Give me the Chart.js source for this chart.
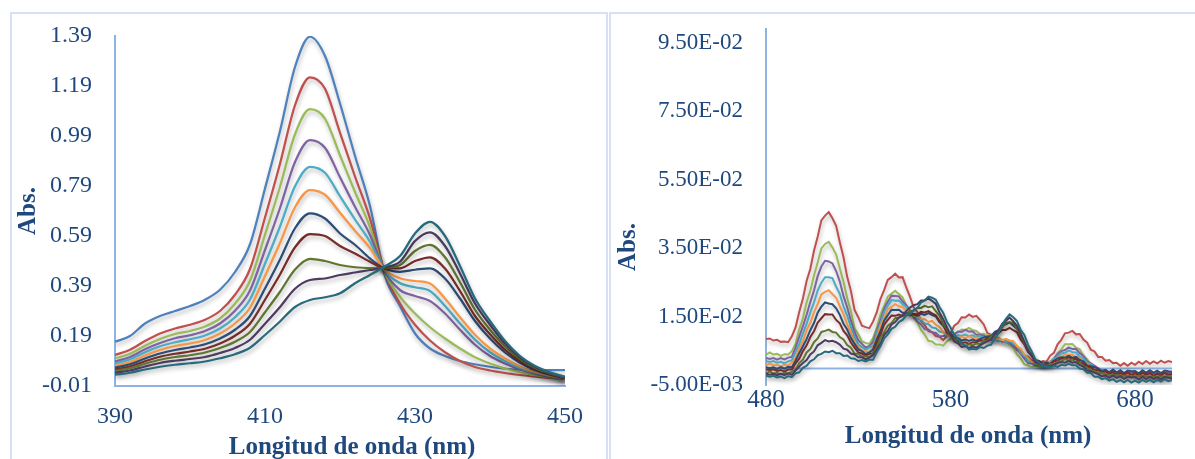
<!DOCTYPE html>
<html>
<head>
<meta charset="utf-8">
<script src="https://cdn.jsdelivr.net/npm/chart.js@4.4.0/dist/chart.umd.min.js"></script>
<style>
  html, body { margin: 0; padding: 0; background: #ffffff; width: 1195px; height: 459px; overflow: hidden; }
  .panel { position: absolute; border: 2px solid #D6E2F3; box-sizing: border-box; background: #ffffff; }
  #panelLeft  { left: 10px;  top: 12px; width: 598px; height: 480px; }
  #panelRight { left: 609px; top: 12px; width: 620px; height: 480px; }
  canvas { position: absolute; }
  #soret { left: 12px;  top: -4px; }
  #qband { left: 612px; top: -11px; }
</style>
</head>
<body>
<div class="panel" id="panelLeft"></div>
<div class="panel" id="panelRight"></div>
<canvas id="soret" width="593" height="463"></canvas>
<canvas id="qband" width="583" height="470"></canvas>
<script>
// ---------- Soret region (390–450 nm) ----------
const soretWavelengths = [390,392,394,396,398,400,402,404,406,408,410,412,414,416,418,420,422,424,426,428,430,432,434,436,438,440,442,444,446,448,450];
const soretXTicks = [390, 410, 430, 450];
const soretYTicks = [-0.01, 0.19, 0.39, 0.59, 0.79, 0.99, 1.19, 1.39];
const soretYLabels = ['-0.01','0.19','0.39','0.59','0.79','0.99','1.19','1.39'];

const soret01 = [0.167,0.19,0.24,0.27,0.29,0.31,0.335,0.375,0.446,0.557,0.78,1.01,1.266,1.387,1.31,1.12,0.91,0.71,0.43,0.31,0.2,0.14,0.11,0.09,0.077,0.067,0.059,0.055,0.054,0.054,0.054];
const soret02 = [0.114,0.135,0.17,0.2,0.22,0.235,0.255,0.29,0.355,0.458,0.664,0.879,1.113,1.225,1.179,1.003,0.828,0.66,0.44,0.32,0.235,0.172,0.125,0.09,0.066,0.052,0.042,0.034,0.027,0.022,0.018];
const soret03 = [0.10,0.119,0.151,0.178,0.198,0.21,0.228,0.26,0.319,0.411,0.595,0.787,0.997,1.097,1.059,0.913,0.766,0.626,0.441,0.347,0.28,0.225,0.18,0.14,0.105,0.08,0.06,0.045,0.033,0.024,0.017];
const soret04 = [0.088,0.106,0.137,0.162,0.181,0.193,0.21,0.24,0.291,0.372,0.534,0.702,0.886,0.974,0.943,0.825,0.707,0.594,0.446,0.374,0.35,0.33,0.28,0.215,0.155,0.11,0.08,0.056,0.039,0.027,0.018];
const soret05 = [0.08,0.097,0.125,0.149,0.165,0.177,0.192,0.22,0.265,0.336,0.479,0.628,0.789,0.867,0.843,0.749,0.656,0.567,0.45,0.401,0.385,0.37,0.31,0.24,0.175,0.125,0.09,0.062,0.043,0.029,0.019];
const soret06 = [0.071,0.086,0.112,0.134,0.15,0.16,0.174,0.2,0.24,0.303,0.43,0.562,0.705,0.774,0.755,0.683,0.611,0.542,0.454,0.421,0.41,0.40,0.34,0.265,0.195,0.14,0.1,0.068,0.046,0.031,0.02];
const soret07 = [0.063,0.077,0.10,0.12,0.134,0.144,0.157,0.18,0.215,0.27,0.38,0.496,0.621,0.681,0.66,0.60,0.555,0.50,0.459,0.447,0.455,0.461,0.42,0.34,0.25,0.18,0.124,0.083,0.054,0.035,0.021];
const soret08 = [0.056,0.068,0.089,0.107,0.119,0.128,0.139,0.16,0.191,0.239,0.335,0.436,0.545,0.598,0.59,0.55,0.52,0.487,0.461,0.461,0.49,0.505,0.46,0.37,0.27,0.197,0.135,0.09,0.058,0.038,0.022];
const soret09 = [0.05,0.061,0.079,0.095,0.106,0.113,0.124,0.142,0.167,0.206,0.285,0.367,0.456,0.499,0.49,0.474,0.465,0.462,0.463,0.474,0.53,0.554,0.505,0.405,0.295,0.215,0.148,0.097,0.062,0.04,0.024];
const soret10 = [0.043,0.052,0.068,0.082,0.091,0.098,0.106,0.122,0.142,0.175,0.239,0.306,0.379,0.414,0.42,0.434,0.444,0.454,0.465,0.487,0.57,0.605,0.55,0.44,0.32,0.235,0.16,0.105,0.067,0.043,0.025];
const soret11 = [0.035,0.043,0.056,0.067,0.075,0.081,0.088,0.101,0.117,0.143,0.194,0.248,0.306,0.334,0.345,0.361,0.401,0.434,0.469,0.51,0.60,0.647,0.59,0.47,0.34,0.25,0.17,0.11,0.07,0.045,0.027];

// ---------- Q-band region (480–700 nm) ----------
const qWavelengths = [480,482,484,486,488,490,492,494,496,498,500,502,504,506,508,510,512,514,516,518,520,522,524,526,528,530,532,534,536,538,540,542,544,546,548,550,552,554,556,558,560,562,564,566,568,570,572,574,576,578,580,582,584,586,588,590,592,594,596,598,600,602,604,606,608,610,612,614,616,618,620,622,624,626,628,630,632,634,636,638,640,642,644,646,648,650,652,654,656,658,660,662,664,666,668,670,672,674,676,678,680,682,684,686,688,690,692,694,696,698,700];
const qXTicks = [480, 580, 680];
const qYTicks = [-0.005, 0.015, 0.035, 0.055, 0.075, 0.095];
const qYLabels = ['-5.00E-03','1.50E-02','3.50E-02','5.50E-02','7.50E-02','9.50E-02'];

const q02 = [0.0084,0.0086,0.0080,0.0082,0.0076,0.0077,0.0075,0.0092,0.0118,0.0163,
  0.0203,0.0254,0.0289,0.0342,0.0383,0.0431,0.0445,0.0455,0.0437,0.0415,
  0.0367,0.0323,0.0266,0.0225,0.0169,0.0148,0.0123,0.0119,0.0116,0.0135,
  0.0162,0.0201,0.0227,0.0257,0.0265,0.0275,0.0264,0.0265,0.0235,0.0208,
  0.0177,0.0163,0.0137,0.0125,0.0107,0.0104,0.0093,0.0091,0.0081,0.0093,
  0.0101,0.0123,0.0131,0.0148,0.0147,0.0156,0.0149,0.0152,0.0140,0.0127,
  0.0101,0.0097,0.0084,0.0086,0.0077,0.0080,0.0069,0.0067,0.0052,0.0049,
  0.0035,0.0033,0.0021,0.0022,0.0013,0.0020,0.0018,0.0036,0.0044,0.0069,
  0.0082,0.0101,0.0103,0.0108,0.0098,0.0099,0.0083,0.0074,0.0053,0.0048,
  0.0032,0.0032,0.0021,0.0023,0.0014,0.0015,0.0006,0.0014,0.0006,0.0015,
  0.0009,0.0018,0.0011,0.0020,0.0012,0.0019,0.0013,0.0021,0.0015,0.0020,
  0.0017];
const q03 = [0.0039,0.0045,0.0039,0.0041,0.0035,0.0040,0.0039,0.0049,0.0071,0.0112,
  0.0145,0.0192,0.0225,0.0270,0.0308,0.0349,0.0362,0.0368,0.0352,0.0331,
  0.0291,0.0252,0.0204,0.0165,0.0116,0.0098,0.0077,0.0073,0.0070,0.0087,
  0.0117,0.0155,0.0181,0.0208,0.0217,0.0225,0.0216,0.0206,0.0182,0.0167,
  0.0146,0.0133,0.0111,0.0097,0.0079,0.0077,0.0068,0.0068,0.0065,0.0077,
  0.0084,0.0100,0.0104,0.0112,0.0111,0.0117,0.0110,0.0108,0.0099,0.0100,
  0.0093,0.0095,0.0089,0.0089,0.0080,0.0080,0.0068,0.0059,0.0039,0.0027,
  0.0010,0.0007,0.0001,0.0007,0.0005,0.0013,0.0011,0.0019,0.0025,0.0044,
  0.0054,0.0069,0.0069,0.0070,0.0059,0.0054,0.0036,0.0025,0.0009,0.0005,
  -0.0006,-0.0006,-0.0013,-0.0014,-0.0017,-0.0017,-0.0019,-0.0020,-0.0021,-0.0020,
  -0.0022,-0.0021,-0.0022,-0.0023,-0.0025,-0.0024,-0.0025,-0.0024,-0.0025,-0.0024,
  -0.0024];
const q04 = [0.0029,0.0026,0.0029,0.0024,0.0029,0.0025,0.0030,0.0032,0.0059,0.0091,
  0.0122,0.0155,0.0192,0.0226,0.0268,0.0296,0.0313,0.0311,0.0305,0.0283,
  0.0252,0.0210,0.0177,0.0138,0.0105,0.0081,0.0070,0.0059,0.0064,0.0076,
  0.0109,0.0138,0.0173,0.0193,0.0211,0.0210,0.0209,0.0194,0.0183,0.0168,
  0.0153,0.0135,0.0127,0.0113,0.0112,0.0104,0.0102,0.0092,0.0093,0.0095,
  0.0097,0.0097,0.0106,0.0105,0.0111,0.0106,0.0106,0.0097,0.0097,0.0094,
  0.0089,0.0082,0.0084,0.0078,0.0081,0.0075,0.0075,0.0063,0.0055,0.0042,
  0.0028,0.0014,0.0013,0.0007,0.0013,0.0011,0.0016,0.0016,0.0028,0.0040,
  0.0049,0.0052,0.0060,0.0055,0.0055,0.0043,0.0035,0.0019,0.0013,0.0006,
  -0.0001,-0.0009,-0.0007,-0.0014,-0.0007,-0.0015,-0.0010,-0.0019,-0.0012,-0.0015,
  -0.0014,-0.0021,-0.0012,-0.0019,-0.0012,-0.0019,-0.0014,-0.0022,-0.0014,-0.0015,
  -0.0016];
const q05 = [0.0020,0.0017,0.0020,0.0015,0.0018,0.0013,0.0019,0.0022,0.0047,0.0069,
  0.0101,0.0129,0.0162,0.0191,0.0226,0.0249,0.0265,0.0265,0.0262,0.0237,
  0.0216,0.0180,0.0153,0.0120,0.0091,0.0069,0.0061,0.0053,0.0059,0.0064,
  0.0102,0.0129,0.0163,0.0182,0.0198,0.0196,0.0197,0.0186,0.0179,0.0162,
  0.0156,0.0143,0.0140,0.0130,0.0128,0.0118,0.0116,0.0106,0.0104,0.0094,
  0.0095,0.0090,0.0096,0.0093,0.0097,0.0092,0.0095,0.0090,0.0093,0.0086,
  0.0088,0.0082,0.0085,0.0080,0.0082,0.0076,0.0078,0.0069,0.0063,0.0044,
  0.0034,0.0019,0.0017,0.0010,0.0013,0.0009,0.0014,0.0015,0.0027,0.0031,
  0.0043,0.0044,0.0051,0.0046,0.0045,0.0033,0.0028,0.0015,0.0011,-0.0001,
  -0.0002,-0.0010,-0.0008,-0.0015,-0.0010,-0.0019,-0.0013,-0.0020,-0.0012,-0.0021,
  -0.0015,-0.0023,-0.0015,-0.0022,-0.0017,-0.0025,-0.0018,-0.0023,-0.0015,-0.0023,
  -0.0020];
const q06 = [0.0007,0.0013,0.0007,0.0009,0.0004,0.0009,0.0007,0.0015,0.0028,0.0057,
  0.0077,0.0111,0.0131,0.0162,0.0186,0.0215,0.0222,0.0227,0.0216,0.0205,
  0.0180,0.0158,0.0127,0.0105,0.0073,0.0064,0.0050,0.0049,0.0046,0.0060,
  0.0088,0.0123,0.0146,0.0171,0.0178,0.0186,0.0180,0.0178,0.0167,0.0164,
  0.0153,0.0152,0.0143,0.0142,0.0134,0.0137,0.0126,0.0119,0.0104,0.0100,
  0.0090,0.0092,0.0087,0.0091,0.0087,0.0092,0.0087,0.0089,0.0084,0.0088,
  0.0083,0.0088,0.0083,0.0086,0.0081,0.0085,0.0080,0.0078,0.0064,0.0056,
  0.0038,0.0031,0.0018,0.0016,0.0009,0.0014,0.0011,0.0017,0.0018,0.0030,
  0.0032,0.0040,0.0037,0.0039,0.0031,0.0030,0.0018,0.0012,0.0001,0.0000,
  -0.0008,-0.0007,-0.0013,-0.0013,-0.0016,-0.0015,-0.0017,-0.0018,-0.0019,-0.0018,
  -0.0020,-0.0018,-0.0020,-0.0020,-0.0022,-0.0020,-0.0022,-0.0022,-0.0022,-0.0020,
  -0.0021];
const q07 = [0.0002,-0.0001,0.0002,-0.0003,0.0002,-0.0002,0.0003,0.0002,0.0021,0.0043,
  0.0063,0.0084,0.0110,0.0131,0.0161,0.0179,0.0191,0.0188,0.0186,0.0174,
  0.0155,0.0129,0.0112,0.0087,0.0070,0.0054,0.0049,0.0040,0.0045,0.0054,
  0.0083,0.0107,0.0138,0.0154,0.0170,0.0169,0.0170,0.0161,0.0161,0.0159,
  0.0156,0.0152,0.0158,0.0155,0.0160,0.0154,0.0150,0.0134,0.0124,0.0111,
  0.0099,0.0087,0.0087,0.0080,0.0083,0.0079,0.0083,0.0079,0.0085,0.0089,
  0.0092,0.0093,0.0105,0.0110,0.0124,0.0127,0.0133,0.0123,0.0114,0.0096,
  0.0074,0.0050,0.0038,0.0022,0.0020,0.0013,0.0015,0.0012,0.0021,0.0028,
  0.0031,0.0030,0.0035,0.0030,0.0032,0.0023,0.0019,0.0007,0.0005,0.0002,
  -0.0002,-0.0009,-0.0006,-0.0013,-0.0005,-0.0013,-0.0007,-0.0015,-0.0008,-0.0010,
  -0.0009,-0.0016,-0.0007,-0.0014,-0.0007,-0.0014,-0.0008,-0.0015,-0.0008,-0.0010,
  -0.0011];
const q08 = [-0.0004,-0.0007,-0.0004,-0.0009,-0.0006,-0.0011,-0.0005,-0.0005,0.0013,0.0027,
  0.0049,0.0066,0.0090,0.0107,0.0132,0.0145,0.0157,0.0156,0.0156,0.0140,
  0.0130,0.0108,0.0095,0.0074,0.0059,0.0045,0.0042,0.0036,0.0041,0.0043,
  0.0074,0.0097,0.0126,0.0140,0.0153,0.0152,0.0156,0.0152,0.0157,0.0153,
  0.0158,0.0156,0.0164,0.0162,0.0166,0.0159,0.0154,0.0137,0.0125,0.0103,
  0.0094,0.0081,0.0080,0.0073,0.0075,0.0070,0.0075,0.0074,0.0081,0.0079,
  0.0087,0.0087,0.0098,0.0101,0.0111,0.0111,0.0117,0.0110,0.0104,0.0083,
  0.0069,0.0047,0.0037,0.0022,0.0018,0.0010,0.0013,0.0011,0.0020,0.0020,
  0.0028,0.0026,0.0031,0.0026,0.0026,0.0016,0.0013,0.0003,0.0002,-0.0007,
  -0.0006,-0.0013,-0.0010,-0.0017,-0.0012,-0.0020,-0.0014,-0.0020,-0.0013,-0.0021,
  -0.0015,-0.0022,-0.0014,-0.0020,-0.0015,-0.0023,-0.0017,-0.0022,-0.0014,-0.0021,
  -0.0018];
const q09 = [-0.0016,-0.0010,-0.0016,-0.0014,-0.0019,-0.0014,-0.0016,-0.0011,-0.0005,0.0014,
  0.0024,0.0045,0.0055,0.0075,0.0086,0.0105,0.0108,0.0112,0.0105,0.0103,
  0.0090,0.0083,0.0067,0.0059,0.0042,0.0041,0.0033,0.0034,0.0031,0.0042,
  0.0060,0.0088,0.0104,0.0123,0.0131,0.0145,0.0147,0.0155,0.0156,0.0166,
  0.0166,0.0175,0.0175,0.0181,0.0177,0.0180,0.0166,0.0152,0.0128,0.0113,
  0.0092,0.0085,0.0073,0.0071,0.0064,0.0069,0.0066,0.0071,0.0070,0.0079,
  0.0080,0.0091,0.0096,0.0110,0.0117,0.0132,0.0133,0.0131,0.0113,0.0098,
  0.0072,0.0056,0.0034,0.0024,0.0011,0.0012,0.0007,0.0011,0.0010,0.0019,
  0.0019,0.0026,0.0022,0.0024,0.0016,0.0016,0.0005,0.0001,-0.0009,-0.0009,
  -0.0016,-0.0014,-0.0020,-0.0020,-0.0023,-0.0021,-0.0023,-0.0023,-0.0025,-0.0023,
  -0.0025,-0.0023,-0.0024,-0.0024,-0.0027,-0.0025,-0.0026,-0.0025,-0.0026,-0.0024,
  -0.0025];
const q10 = [-0.0017,-0.0020,-0.0017,-0.0022,-0.0017,-0.0021,-0.0016,-0.0020,-0.0008,0.0004,
  0.0014,0.0023,0.0039,0.0048,0.0066,0.0073,0.0081,0.0077,0.0079,0.0075,
  0.0068,0.0056,0.0053,0.0042,0.0039,0.0031,0.0031,0.0025,0.0030,0.0037,
  0.0054,0.0071,0.0096,0.0108,0.0127,0.0134,0.0147,0.0152,0.0166,0.0176,
  0.0183,0.0186,0.0197,0.0197,0.0203,0.0196,0.0187,0.0162,0.0142,0.0119,
  0.0097,0.0077,0.0072,0.0061,0.0063,0.0058,0.0062,0.0059,0.0066,0.0072,
  0.0078,0.0083,0.0099,0.0109,0.0129,0.0138,0.0147,0.0136,0.0123,0.0101,
  0.0076,0.0049,0.0035,0.0017,0.0014,0.0006,0.0008,0.0004,0.0010,0.0014,
  0.0017,0.0015,0.0020,0.0015,0.0017,0.0008,0.0004,-0.0008,-0.0010,-0.0014,
  -0.0018,-0.0025,-0.0022,-0.0029,-0.0022,-0.0029,-0.0024,-0.0032,-0.0026,-0.0028,
  -0.0027,-0.0034,-0.0026,-0.0033,-0.0026,-0.0033,-0.0027,-0.0034,-0.0027,-0.0029,
  -0.0030];
const q11 = [-0.0023,-0.0026,-0.0023,-0.0028,-0.0025,-0.0030,-0.0024,-0.0027,-0.0016,-0.0013,
  0.0000,0.0006,0.0019,0.0025,0.0037,0.0041,0.0048,0.0046,0.0050,0.0043,
  0.0043,0.0035,0.0036,0.0028,0.0027,0.0020,0.0023,0.0019,0.0024,0.0024,
  0.0046,0.0063,0.0086,0.0098,0.0114,0.0120,0.0134,0.0140,0.0153,0.0156,
  0.0169,0.0175,0.0191,0.0197,0.0208,0.0205,0.0199,0.0178,0.0161,0.0135,
  0.0118,0.0096,0.0086,0.0071,0.0065,0.0054,0.0056,0.0054,0.0061,0.0058,
  0.0065,0.0068,0.0086,0.0101,0.0127,0.0143,0.0156,0.0148,0.0137,0.0111,
  0.0096,0.0068,0.0048,0.0025,0.0016,0.0005,0.0006,0.0002,0.0007,0.0003,
  0.0009,0.0007,0.0012,0.0008,0.0008,-0.0002,-0.0004,-0.0014,-0.0015,-0.0026,
  -0.0026,-0.0033,-0.0030,-0.0037,-0.0033,-0.0041,-0.0036,-0.0042,-0.0035,-0.0043,
  -0.0037,-0.0043,-0.0035,-0.0041,-0.0035,-0.0042,-0.0035,-0.0040,-0.0032,-0.0039,
  -0.0035];

// Office palette used for the successive spectra
const palette = ['#4F81BD','#C0504D','#9BBB59','#8064A2','#4BACC6','#F79646','#2C4D75','#772C2A','#5F7530','#4D3B62','#276A7C'];

const axisColor = '#8DB3E2';
const textColor = '#1F497D';
const serif = '"Liberation Serif", "Times New Roman", serif';

function toPoints(xs, ys) { return xs.map((x, i) => ({ x: x, y: ys[i] })); }

function buildSets(xs, seriesList, colorOffset, width, smooth) {
  const n = seriesList.length;
  return seriesList.map((ys, i) => ({
    data: toPoints(xs, ys),
    borderColor: palette[i + colorOffset],
    borderWidth: width,
    pointRadius: 0,
    fill: false,
    tension: smooth ? 0.4 : 0,
    cubicInterpolationMode: smooth ? 'monotone' : 'default',
    order: n - i   // later spectra are painted over earlier ones
  }));
}

// soft drop shadow under every curve
const lineShadow = {
  id: 'lineShadow',
  beforeDatasetsDraw(chart) {
    const c = chart.ctx;
    c.save();
    c.shadowColor = 'rgba(0,0,0,0.28)';
    c.shadowBlur = 4;
    c.shadowOffsetX = 1;
    c.shadowOffsetY = 3;
  },
  afterDatasetsDraw(chart) { chart.ctx.restore(); }
};

// horizontal axis line drawn where Abs = 0
const zeroLine = {
  id: 'zeroLine',
  beforeDatasetsDraw(chart, args, opts) {
    if (!opts.enabled) return;
    const c = chart.ctx, a = chart.chartArea;
    const y = Math.round(chart.scales.y.getPixelForValue(0)) + 0.5;
    c.save();
    c.strokeStyle = axisColor;
    c.lineWidth = 2;
    c.beginPath();
    c.moveTo(a.left, y);
    c.lineTo(a.right, y);
    c.stroke();
    c.restore();
  }
};

// axis captions
const captions = {
  id: 'captions',
  afterDraw(chart, args, opts) {
    const c = chart.ctx;
    c.save();
    c.fillStyle = textColor;
    c.font = 'bold 25px ' + serif;
    c.textAlign = 'center';
    c.textBaseline = 'middle';
    for (const it of opts.items) {
      c.save();
      c.translate(it.x, it.y);
      if (it.rotate) c.rotate(-Math.PI / 2);
      c.fillText(it.text, 0, 0);
      c.restore();
    }
    c.restore();
  }
};

function makeChart(id, cfg) {
  return new Chart(document.getElementById(id), {
    type: 'line',
    data: { datasets: cfg.datasets },
    options: {
      responsive: false,
      animation: false,
      events: [],
      layout: { padding: cfg.padding },
      plugins: {
        legend: { display: false },
        tooltip: { enabled: false },
        zeroLine: { enabled: cfg.zeroLine },
        captions: { items: cfg.captions }
      },
      scales: {
        x: {
          type: 'linear',
          min: cfg.xMin, max: cfg.xMax,
          afterBuildTicks: s => { s.ticks = cfg.xTicks.map(v => ({ value: v })); },
          afterFit: s => { s.height = cfg.xHeight; },
          ticks: { color: textColor, font: { family: serif, size: cfg.xFont }, padding: cfg.xPad, maxRotation: 0, autoSkip: false,
                   callback: v => String(v) },
          grid: { display: false, drawTicks: false },
          border: { display: !cfg.zeroLine, color: axisColor, width: 2 }
        },
        y: {
          min: cfg.yMin, max: cfg.yMax,
          afterBuildTicks: s => { s.ticks = cfg.yTicks.map(v => ({ value: v })); },
          afterFit: s => { s.width = cfg.yWidth; },
          ticks: { color: textColor, font: { family: serif, size: cfg.yFont }, padding: 23, autoSkip: false,
                   callback: (v, i) => cfg.yLabels[i] },
          grid: { display: false, drawTicks: false },
          border: { color: axisColor, width: 2 }
        }
      }
    },
    plugins: [zeroLine, lineShadow, captions]
  });
}

makeChart('soret', {
  datasets: buildSets(soretWavelengths,
    [soret01, soret02, soret03, soret04, soret05, soret06, soret07, soret08, soret09, soret10, soret11], 0, 2.25, true),
  xMin: 390, xMax: 450, xTicks: soretXTicks,
  yMin: -0.01, yMax: 1.39, yTicks: soretYTicks, yLabels: soretYLabels,
  padding: { top: 40, right: 40, left: 0, bottom: 0 },
  xHeight: 73, yWidth: 103, xFont: 24, yFont: 24, xPad: 16,
  zeroLine: false,
  captions: [
    { text: 'Abs.', x: 17, y: 215, rotate: true },
    { text: 'Longitud de onda (nm)', x: 340, y: 452 }
  ]
});

makeChart('qband', {
  datasets: buildSets(qWavelengths,
    [q02, q03, q04, q05, q06, q07, q08, q09, q10, q11], 1, 2, false),
  xMin: 480, xMax: 700, xTicks: qXTicks,
  yMin: -0.005, yMax: 0.099, yTicks: qYTicks, yLabels: qYLabels,
  padding: { top: 40, right: 23, left: 0, bottom: 0 },
  xHeight: 74, yWidth: 154, xFont: 25, yFont: 23, xPad: 0,
  zeroLine: true,
  captions: [
    { text: 'Abs.', x: 17, y: 258, rotate: true },
    { text: 'Longitud de onda (nm)', x: 356, y: 448 }
  ]
});
</script>
</body>
</html>
